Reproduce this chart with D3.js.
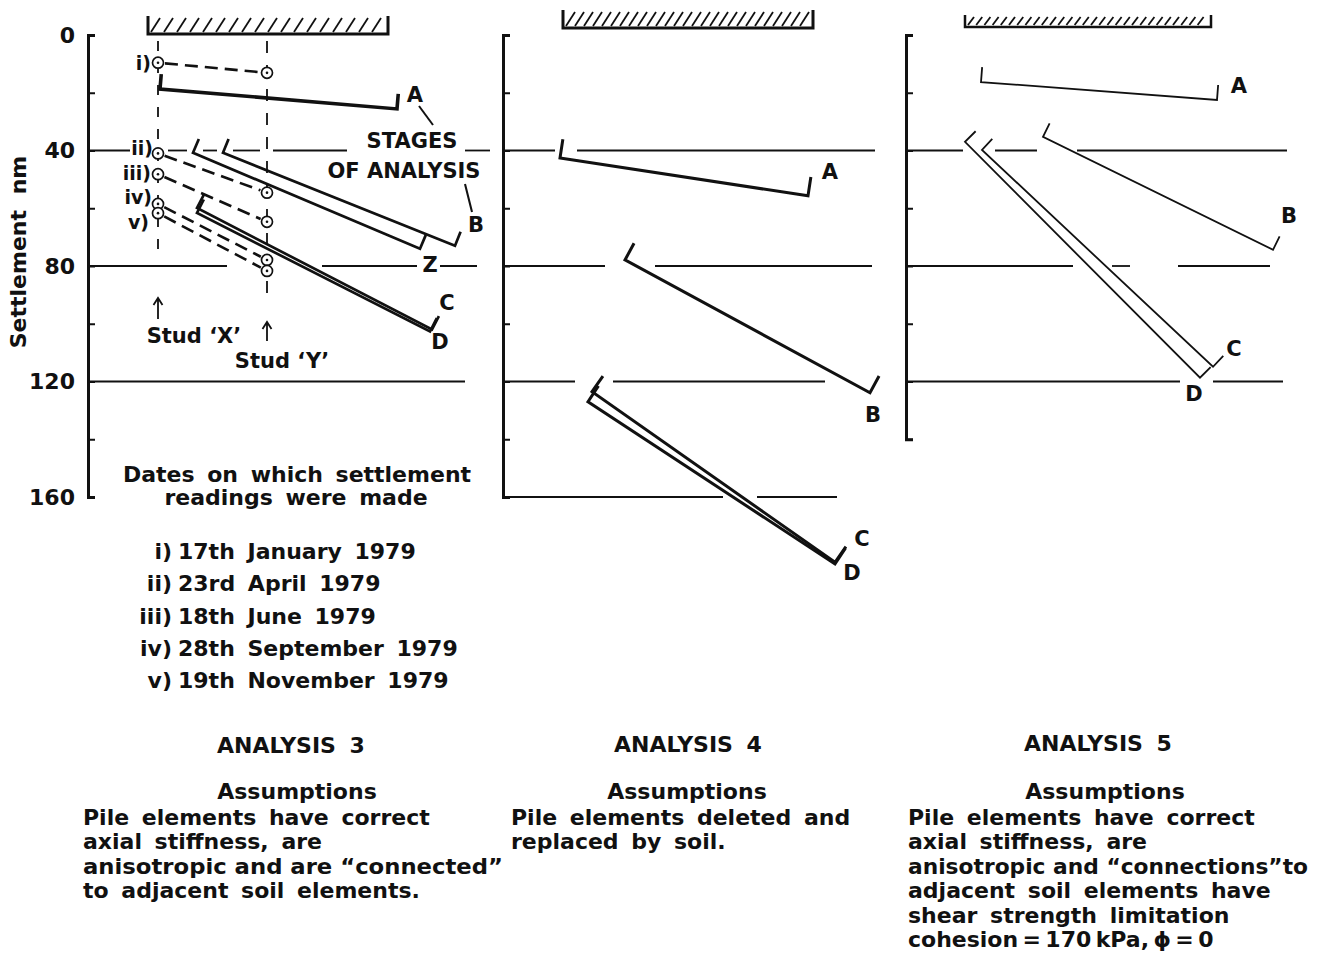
<!DOCTYPE html>
<html>
<head>
<meta charset="utf-8">
<script src="https://cdn.jsdelivr.net/npm/d3@7"></script>
<style>
  html, body { margin: 0; padding: 0; background: #fff; }
  svg { display: block; }
  text { font-family: "DejaVu Sans", sans-serif; font-weight: bold; fill: #111; }
</style>
</head>
<body>
<svg id="chart" width="1317" height="954"></svg>
<script>
// ---------------- DATA ----------------
const yTickValues = [0, 20, 40, 60, 80, 100, 120, 140, 160];
const yTickLabels = ["0", "", "40", "", "80", "", "120", "", "160"];
const yAxisLabel = "Settlement  nm";

const panelNames = ["ANALYSIS 3", "ANALYSIS 4", "ANALYSIS 5"];
const panelAxisMax = [160, 160, 140];

// Positions along the section (0-100 relative units) of the two studs
const studNames = ["Stud \u2018X\u2019", "Stud \u2018Y\u2019"];
const studPos = [17.5, 44.75];
// Measured settlements (mm) at studs on the five reading dates
const readingLabels = ["i)", "ii)", "iii)", "iv)", "v)"];
const readingDates = ["17th January 1979", "23rd April 1979", "18th June 1979",
                      "28th September 1979", "19th November 1979"];
const settlementStudX = [9.6, 41.0, 48.2, 58.5, 61.7];
const settlementStudY = [13.1, 54.6, 64.7, 77.9, 81.7];

// Computed settlement profiles: [stage, xStart, sStart, xEnd, sEnd]
const stagesAnalysis3 = [
  ["A", 18.0, 18.7, 77.25, 25.6],
  ["Z", 26.25, 40.8, 83.0, 74.0],
  ["B", 33.75, 40.8, 91.75, 73.0],
  ["C", 27.25, 59.9, 86.0, 102.0],
  ["D", 27.25, 61.6, 85.5, 102.7]
];
const stagesAnalysis4 = [
  ["A", 14.25, 42.6, 76.25, 55.7],
  ["B", 30.5, 77.9, 91.75, 123.9],
  ["C", 22.25, 123.5, 83.0, 182.6],
  ["D", 21.25, 127.0, 83.0, 183.2]
];
const stagesAnalysis5 = [
  ["A", 18.75, 16.3, 77.75, 22.5],
  ["B", 34.25, 35.3, 91.75, 74.4],
  ["C", 19.0, 39.8, 76.75, 114.9],
  ["D", 14.75, 37.0, 73.5, 118.7]
];

// Stage label anchor points [stage, x, settlement]
const labelsAnalysis3 = [["A", 81.75, 20.8], ["B", 97, 65.7], ["Z", 85.5, 79.6], ["C", 89.75, 92.7], ["D", 88, 106.2]];
const labelsAnalysis4 = [["A", 81.75, 47.4], ["B", 92.5, 131.5], ["C", 89.75, 174.7], ["D", 87.25, 186.2]];
const labelsAnalysis5 = [["A", 83.25, 17.6], ["B", 95.75, 62.6], ["C", 82, 108.7], ["D", 72, 124.2]];

// Reference settlement levels with their drawn (broken) extents
const refLevels3 = [
  [40, [[0, 10.5], [20, 24.75], [28.75, 32.25], [36.25, 43], [46.25, 64.75], [94.25, 100.5]]],
  [80, [[0, 34.75], [58.5, 82.25], [88, 97.25]]],
  [120, [[0, 94.25]]]
];
const refLevels4 = [
  [40, [[0, 13], [18.5, 93]]],
  [80, [[0, 25.5], [38, 92.25]]],
  [120, [[0, 18], [27.5, 80.5]]],
  [160, [[0, 55], [63.5, 83.5]]]
];
const refLevels5 = [
  [40, [[0, 14.25], [22.25, 32.75], [42.75, 95.25]]],
  [80, [[0, 41.75], [51.5, 56], [68, 91]]],
  [120, [[0, 68.5], [76.75, 94.25]]]
];

// Raft (pile cap) extent in each analysis
const raftExtent = [[15, 75], [15, 77.5], [14.75, 76.25]];

const assumptions3 = ["Pile elements have correct", "axial stiffness, are",
  "anisotropic and are \u201Cconnected\u201D", "to adjacent soil elements."];
const assumptions4 = ["Pile elements deleted and", "replaced by soil."];
const assumptions5 = ["Pile elements have correct", "axial stiffness, are",
  "anisotropic and \u201Cconnections\u201Dto", "adjacent soil elements have",
  "shear strength limitation", "cohesion\u2009=\u2009170\u2009kPa,\u2009\u03D5\u2009=\u20090"];

// ---------------- LAYOUT / STYLE ----------------
const svg = d3.select("#chart");
const y = d3.scaleLinear().domain([0, 160]).range([35, 497]);

const panels = [
  { x0: 88, stages: stagesAnalysis3, labels: labelsAnalysis3, refs: refLevels3, lw: 2.7, tick: 15,
    raft: { top: 16, bottom: 34, step: 13, w: 3 }, title: { x: 291, y: 753 }, assumX: 297, textX: 83,
    text: assumptions3, maxW: 420, axisLabels: true },
  { x0: 503, stages: stagesAnalysis4, labels: labelsAnalysis4, refs: refLevels4, lw: 3, tick: 19,
    raft: { top: 10, bottom: 28, step: 9, w: 3 }, title: { x: 688, y: 752 }, assumX: 687, textX: 511,
    text: assumptions4, maxW: 380, axisLabels: false },
  { x0: 906, stages: stagesAnalysis5, labels: labelsAnalysis5, refs: refLevels5, lw: 1.8, tick: 15,
    raft: { top: 15, bottom: 27, step: 8.2, w: 2.5 }, title: { x: 1098, y: 751 }, assumX: 1105, textX: 908,
    text: assumptions5, maxW: 400, axisLabels: false }
];

panels.forEach((p, i) => {
  const x = d3.scaleLinear().domain([0, 100]).range([p.x0, p.x0 + 400]);
  const g = svg.append("g");

  // axis
  const axMax = panelAxisMax[i];
  const yAx = d3.scaleLinear().domain([0, axMax]).range([y(0), y(axMax)]);
  const axis = d3.axisLeft(yAx)
    .tickValues(yTickValues.filter(v => v <= axMax))
    .tickFormat((d) => p.axisLabels ? yTickLabels[yTickValues.indexOf(d)] : "")
    .tickSizeInner(-7).tickSizeOuter(-7).tickPadding(13);
  const ag = g.append("g").attr("transform", `translate(${p.x0},0)`).call(axis);
  ag.select(".domain").attr("stroke", "#111").attr("stroke-width", 3).attr("fill", "none");
  ag.selectAll(".tick line").attr("stroke", "#111").attr("stroke-width", 2);
  ag.selectAll(".tick text").style("font-size", "22px").attr("fill", "#111")
    .style("font-family", "DejaVu Sans").style("font-weight", "bold");

  // reference settlement lines (broken)
  p.refs.forEach(([lvl, segs]) => {
    segs.forEach(([a, b]) => {
      g.append("line").attr("x1", x(a)).attr("x2", x(b)).attr("y1", y(lvl)).attr("y2", y(lvl))
        .attr("stroke", "#111").attr("stroke-width", 1.8);
    });
  });

  // raft with hatching
  const rl = x(raftExtent[i][0]), rr = x(raftExtent[i][1]);
  const rg = g.append("g");
  const nH = Math.floor((rr - rl - 4) / p.raft.step);
  const hatch = d3.range(nH).map(k => rl + 3 + k * p.raft.step);
  rg.selectAll("line.h").data(hatch).enter().append("line")
    .attr("x1", d => d).attr("y1", p.raft.bottom - 2)
    .attr("x2", d => Math.min(d + (p.raft.bottom - p.raft.top) * 0.5, rr - 1)).attr("y2", p.raft.top + 2)
    .attr("stroke", "#111").attr("stroke-width", 1.8);
  rg.append("path")
    .attr("d", `M${rl},${p.raft.top}V${p.raft.bottom}H${rr}V${p.raft.top}`)
    .attr("fill", "none").attr("stroke", "#111").attr("stroke-width", p.raft.w);

  // stage lines with perpendicular end ticks
  p.stages.forEach(([name, x1, s1, x2, s2]) => {
    const P1 = [x(x1), y(s1)], P2 = [x(x2), y(s2)];
    const dx = P2[0] - P1[0], dy = P2[1] - P1[1];
    const len = Math.hypot(dx, dy);
    const n = [dy / len * p.tick, -dx / len * p.tick];
    g.append("path")
      .attr("d", `M${P1[0] + n[0]},${P1[1] + n[1]}L${P1[0]},${P1[1]}L${P2[0]},${P2[1]}L${P2[0] + n[0]},${P2[1] + n[1]}`)
      .attr("fill", "none").attr("stroke", "#111").attr("stroke-width", (i === 0 && name === "A") ? 3.6 : p.lw)
      .attr("stroke-linejoin", "miter");
  });

  // stage letters
  p.labels.forEach(([t, lx, ls]) => {
    g.append("text").attr("x", x(lx)).attr("y", y(ls)).attr("text-anchor", "middle")
      .attr("dominant-baseline", "central").style("font-size", "21px").text(t);
  });

  // titles & assumptions
  g.append("text").attr("x", p.title.x).attr("y", p.title.y).attr("text-anchor", "middle")
    .style("font-size", "22px").style("word-spacing", "6px").text(panelNames[i]);
  g.append("text").attr("x", p.assumX).attr("y", 799).attr("text-anchor", "middle")
    .style("font-size", "22px").text("Assumptions");
  p.text.forEach((t, k) => {
    const tx = g.append("text").attr("x", p.textX).attr("y", 825 + k * 24.4)
      .style("font-size", "22px").style("word-spacing", "5px").text(t);
    const w = tx.node().getComputedTextLength();
    if (w > p.maxW) {
      tx.style("word-spacing", "0px");
      tx.attr("textLength", p.maxW).attr("lengthAdjust", "spacingAndGlyphs");
    }
  });

  // ---------- Analysis 3 extras: measured stud settlements ----------
  if (i === 0) {
    const xs = x(studPos[0]), ys = x(studPos[1]);
    // stud verticals (dashed)
    g.append("line").attr("x1", xs).attr("x2", xs).attr("y1", 41).attr("y2", 258)
      .attr("stroke", "#111").attr("stroke-width", 1.8).attr("stroke-dasharray", "10,12");
    g.append("line").attr("x1", ys).attr("x2", ys).attr("y1", 41).attr("y2", 293)
      .attr("stroke", "#111").attr("stroke-width", 1.8).attr("stroke-dasharray", "12,12");
    // dashed connectors
    settlementStudX.forEach((sx, k) => {
      const A = [xs, y(sx)], B = [ys, y(settlementStudY[k])];
      const dx = B[0] - A[0], dy = B[1] - A[1], L = Math.hypot(dx, dy);
      g.append("line")
        .attr("x1", A[0] + dx / L * 7).attr("y1", A[1] + dy / L * 7)
        .attr("x2", B[0] - dx / L * 7).attr("y2", B[1] - dy / L * 7)
        .attr("stroke", "#111").attr("stroke-width", 2.6).attr("stroke-dasharray", "13,7");
    });
    // circles with centre dot
    const pts = settlementStudX.map(v => [xs, v]).concat(settlementStudY.map(v => [ys, v]));
    pts.forEach(([px, s]) => {
      g.append("circle").attr("cx", px).attr("cy", y(s)).attr("r", 5.5)
        .attr("fill", "#fff").attr("stroke", "#111").attr("stroke-width", 1.7);
      g.append("circle").attr("cx", px).attr("cy", y(s)).attr("r", 1.3).attr("fill", "#111");
    });
    // reading labels
    const labY = [63, 148, 173, 197, 222];
    const labR = [151, 153, 151, 152, 149];
    readingLabels.forEach((t, k) => {
      g.append("text").attr("x", labR[k]).attr("y", labY[k]).attr("text-anchor", "end")
        .attr("dominant-baseline", "central").style("font-size", "19px").text(t);
    });
    // stages-of-analysis annotation
    g.append("text").attr("x", 412).attr("y", 148).attr("text-anchor", "middle").style("font-size", "21px").text("STAGES");
    g.append("text").attr("x", 404).attr("y", 178).attr("text-anchor", "middle").style("font-size", "21px").text("OF ANALYSIS");
    g.append("line").attr("x1", 419).attr("y1", 106).attr("x2", 433).attr("y2", 125).attr("stroke", "#111").attr("stroke-width", 2);
    g.append("line").attr("x1", 465).attr("y1", 184).attr("x2", 472).attr("y2", 212).attr("stroke", "#111").attr("stroke-width", 2);
    // stud arrows
    const arrow = (ax, y1, y2) => {
      g.append("path")
        .attr("d", `M${ax},${y2}V${y1}M${ax - 4.5},${y1 + 7}L${ax},${y1}L${ax + 4.5},${y1 + 7}`)
        .attr("fill", "none").attr("stroke", "#111").attr("stroke-width", 1.8);
    };
    arrow(xs, 298, 319);
    arrow(ys, 322, 341);
    g.append("text").attr("x", 194).attr("y", 343).attr("text-anchor", "middle").style("font-size", "21px").text(studNames[0]);
    g.append("text").attr("x", 282).attr("y", 368).attr("text-anchor", "middle").style("font-size", "21px").text(studNames[1]);
    // dates
    g.append("text").attr("x", 297).attr("y", 482).attr("text-anchor", "middle").style("font-size", "22px").style("word-spacing", "5px").text("Dates on which settlement");
    g.append("text").attr("x", 296).attr("y", 505).attr("text-anchor", "middle").style("font-size", "22px").style("word-spacing", "5px").text("readings were made");
    readingLabels.forEach((t, k) => {
      const yy = 559 + k * 32.3;
      g.append("text").attr("x", 172).attr("y", yy).attr("text-anchor", "end").style("font-size", "22px").text(t);
      g.append("text").attr("x", 178).attr("y", yy).style("font-size", "22px").style("word-spacing", "5px").text(readingDates[k]);
    });
    // y axis title
    svg.append("text").attr("transform", "translate(26,252) rotate(-90)").attr("text-anchor", "middle")
      .style("font-size", "22px").style("word-spacing", "8px").text(yAxisLabel);
  }
});
</script>
</body>
</html>
